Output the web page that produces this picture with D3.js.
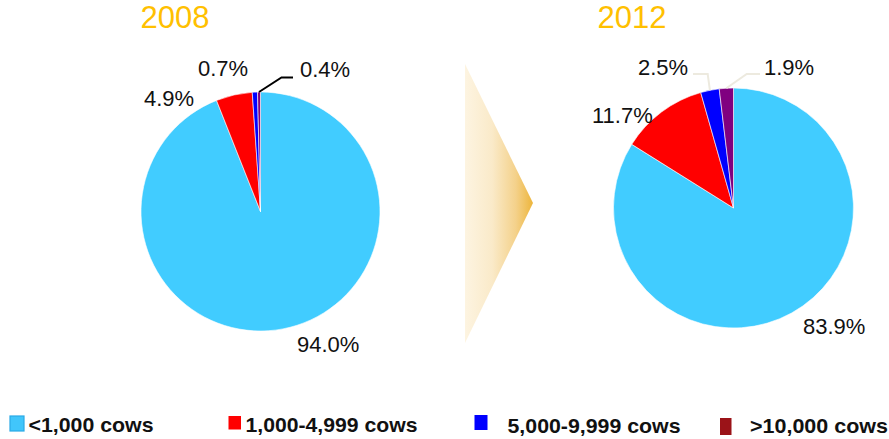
<!DOCTYPE html>
<html>
<head>
<meta charset="utf-8">
<script src="https://cdn.jsdelivr.net/npm/d3@7"></script>
<style>
  html, body { margin: 0; padding: 0; background: #fff; }
  svg { display: block; font-family: "Liberation Sans", Arial, sans-serif; }
</style>
</head>
<body>
<svg id="chart" width="889" height="439"></svg>
<script>
// Herd-size categories and their share of farms (%) in each year
const categories = ["<1,000 cows", "1,000-4,999 cows", "5,000-9,999 cows", ">10,000 cows"];
const years = ["2008", "2012"];
const values2008 = [94.0, 4.9, 0.7, 0.4];
const values2012 = [83.9, 11.7, 2.5, 1.9];

// Styling
const sliceColors = ["#41CCFF", "#FF0000", "#0000FF", "#800080"];
const legendColors = ["#41C6FB", "#FF0000", "#0000FF", "#9B1318"];

const svg = d3.select("#chart");

// Pie layout: clockwise from 12 o'clock, keep category order
const pie = d3.pie().sort(null).value(d => d);

const charts = [
  {
    year: years[0], values: values2008,
    cx: 260.5, cy: 211.5, r: 119.5,
    titleX: 140.5,
    // label anchor (start) offsets from the pie centre
    labels: [[36.5, 140.5], [-116.5, -105.5], [-62.5, -135.5], [39.5, -134.5]],
    leaders: [null, null, null, { elbow: [21, -134], end: [32.5, -134] }],
    leaderColor: "#000"
  },
  {
    year: years[1], values: values2012,
    cx: 733.5, cy: 208, r: 120,
    titleX: 597.5,
    labels: [[69.5, 126], [-141.5, -85.3], [-95.5, -133], [30.5, -133]],
    leaders: [null, null, { elbow: [-25.8, -134], end: [-40.5, -134] }, { elbow: [13.2, -134], end: [26.5, -134] }],
    leaderColor: "#EDEADF"
  }
];

// Transition arrow between the two pies
const defs = svg.append("defs");
const grad = defs.append("linearGradient")
  .attr("id", "arrowGrad").attr("x1", "0%").attr("x2", "100%").attr("y1", "0%").attr("y2", "0%");
grad.append("stop").attr("offset", "0%").attr("stop-color", "#FDF4E1");
grad.append("stop").attr("offset", "40%").attr("stop-color", "#FAEAC9");
grad.append("stop").attr("offset", "75%").attr("stop-color", "#F4D18A");
grad.append("stop").attr("offset", "100%").attr("stop-color", "#EDB53B");

svg.append("path")
  .attr("d", d3.line()([[465, 64], [533, 203], [465, 343]]) + "Z")
  .attr("fill", "url(#arrowGrad)");

charts.forEach(c => {
  const g = svg.append("g").attr("transform", `translate(${c.cx},${c.cy})`);
  const arcs = pie(c.values);
  const arc = d3.arc().innerRadius(0).outerRadius(c.r);

  g.selectAll("path.slice")
    .data(arcs)
    .join("path")
    .attr("class", "slice")
    .attr("d", arc)
    .attr("fill", (d, i) => sliceColors[i])
    .attr("stroke", "#ffffff")
    .attr("stroke-width", 0.6)
    .attr("stroke-linejoin", "round");

  // Leader lines from the slice rim to small-value labels
  arcs.forEach((d, i) => {
    const ld = c.leaders[i];
    if (!ld) return;
    const mid = (d.startAngle + d.endAngle) / 2;
    const start = [c.r * Math.sin(mid), -c.r * Math.cos(mid)];
    g.append("path")
      .attr("d", d3.line()([start, ld.elbow, ld.end]))
      .attr("fill", "none")
      .attr("stroke", c.leaderColor)
      .attr("stroke-width", 2);
  });

  g.selectAll("text.pct")
    .data(arcs)
    .join("text")
    .attr("class", "pct")
    .attr("x", (d, i) => c.labels[i][0])
    .attr("y", (d, i) => c.labels[i][1])
    .attr("font-size", 22)
    .attr("fill", "#111")
    .text(d => d.data.toFixed(1) + "%");

  svg.append("text")
    .attr("x", c.titleX)
    .attr("y", 28)
    .attr("font-size", 31)
    .attr("fill", "#FFC000")
    .text(c.year);
});

// Legend
const legendLayout = [
  { sx: 10, sy: 416, sw: 14, sh: 15, tx: 28.5, ty: 432.3, tw: 125 },
  { sx: 228.5, sy: 416, sw: 12.5, sh: 13.5, tx: 245.5, ty: 431.7, tw: 172 },
  { sx: 474.5, sy: 415, sw: 13, sh: 15, tx: 507.5, ty: 433.3, tw: 173 },
  { sx: 720, sy: 418, sw: 11.5, sh: 17, tx: 750, ty: 433.3, tw: 138 }
];

const legend = svg.append("g");
categories.forEach((name, i) => {
  const L = legendLayout[i];
  legend.append("rect")
    .attr("x", L.sx).attr("y", L.sy)
    .attr("width", L.sw).attr("height", L.sh)
    .attr("fill", legendColors[i])
    .attr("stroke", i === 0 ? "#2AAAE6" : "none")
    .attr("stroke-width", i === 0 ? 1.2 : 0);
  legend.append("text")
    .attr("x", L.tx).attr("y", L.ty)
    .attr("font-size", 21)
    .attr("font-weight", "bold")
    .attr("fill", "#111")
    .attr("textLength", L.tw)
    .attr("lengthAdjust", "spacingAndGlyphs")
    .text(name);
});
</script>
</body>
</html>
